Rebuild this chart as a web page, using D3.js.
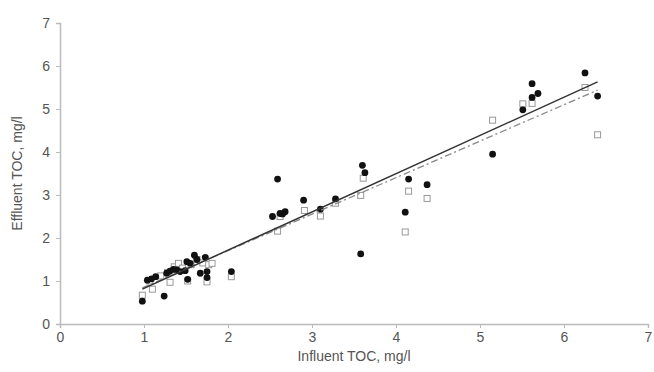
<!DOCTYPE html>
<html>
<head>
<meta charset="utf-8">
<script src="https://cdn.jsdelivr.net/npm/d3@7"></script>
<style>
  body { margin: 0; background: #fff; }
  svg text { font-family: "Liberation Sans", Arial, sans-serif; fill: #555; }
</style>
</head>
<body>
<div id="chart"></div>
<script>
// filled circles (influent, effluent)
const circlePoints = [
  [0.98,0.53],[1.04,1.02],[1.09,1.05],[1.14,1.10],[1.24,0.65],[1.27,1.18],[1.31,1.23],
  [1.35,1.27],[1.39,1.26],[1.43,1.22],[1.49,1.24],[1.51,1.45],[1.52,1.04],[1.55,1.41],
  [1.60,1.60],[1.63,1.50],[1.67,1.18],[1.73,1.55],[1.75,1.22],[1.75,1.08],[2.04,1.22],
  [2.53,2.50],[2.59,3.37],[2.62,2.57],[2.65,2.56],[2.68,2.61],[2.90,2.88],[3.10,2.67],
  [3.28,2.91],[3.58,1.63],[3.60,3.69],[3.63,3.52],[4.11,2.60],[4.15,3.37],[4.37,3.24],
  [5.15,3.95],[5.51,4.98],[5.62,5.27],[5.62,5.59],[5.69,5.36],[6.25,5.84],[6.40,5.30]
];
// open squares
const squarePoints = [
  [0.98,0.67],[1.07,1.00],[1.10,0.81],[1.20,1.12],[1.28,1.20],[1.31,0.97],[1.36,1.33],
  [1.41,1.41],[1.46,1.30],[1.52,1.00],[1.56,1.38],[1.63,1.50],[1.70,1.42],[1.75,0.98],
  [1.77,1.38],[1.81,1.41],[2.04,1.10],[2.59,2.16],[2.62,2.50],[2.91,2.64],[3.10,2.51],
  [3.28,2.81],[3.58,2.99],[3.61,3.39],[4.11,2.14],[4.15,3.09],[4.37,2.92],[5.15,4.74],
  [5.51,5.12],[5.62,5.13],[6.25,5.50],[6.40,4.40]
];
// trend lines (end points)
const solidTrend = [[0.98,0.81],[6.40,5.63]];
const dashTrend = [[0.98,0.84],[6.40,5.44]];
const xTicks = [0,1,2,3,4,5,6,7];
const yTicks = [0,1,2,3,4,5,6,7];

const width = 654, height = 372;
const margin = { top: 23, right: 6, bottom: 48, left: 60 };

const svg = d3.select('#chart').append('svg')
  .attr('width', width)
  .attr('height', height);

const x = d3.scaleLinear().domain([0, 7]).range([margin.left, width - margin.right]);
const y = d3.scaleLinear().domain([0, 7]).range([height - margin.bottom, margin.top]);

// axes
const xAxis = svg.append('g')
  .attr('transform', `translate(0,${y(0)})`)
  .call(d3.axisBottom(x).tickValues(xTicks).tickSize(4).tickPadding(4).tickFormat(d3.format('d')));
const yAxis = svg.append('g')
  .attr('transform', `translate(${x(0)},0)`)
  .call(d3.axisLeft(y).tickValues(yTicks).tickSize(4).tickPadding(6).tickFormat(d3.format('d')));

[xAxis, yAxis].forEach(a => {
  a.select('.domain').attr('stroke', '#bbb').attr('stroke-width', 1.5);
  a.selectAll('.tick line').attr('stroke', '#bbb');
  a.selectAll('.tick text').style('font-size', '14px').style('fill', '#555');
});

// squares
const s = 6;
svg.append('g').selectAll('rect')
  .data(squarePoints)
  .enter().append('rect')
  .attr('x', d => x(d[0]) - s / 2)
  .attr('y', d => y(d[1]) - s / 2)
  .attr('width', s)
  .attr('height', s)
  .attr('fill', '#fff')
  .attr('stroke', '#999')
  .attr('stroke-width', 1);

// circles
svg.append('g').selectAll('circle')
  .data(circlePoints)
  .enter().append('circle')
  .attr('cx', d => x(d[0]))
  .attr('cy', d => y(d[1]))
  .attr('r', 3.4)
  .attr('fill', '#111');

const line = d3.line().x(d => x(d[0])).y(d => y(d[1]));

svg.append('path')
  .datum(dashTrend)
  .attr('fill', 'none')
  .attr('stroke', '#888')
  .attr('stroke-width', 1.3)
  .attr('stroke-dasharray', '7,3,2,3')
  .attr('d', line);

svg.append('path')
  .datum(solidTrend)
  .attr('fill', 'none')
  .attr('stroke', '#333')
  .attr('stroke-width', 1.5)
  .attr('d', line);

// axis titles
svg.append('text')
  .attr('x', (x(0) + x(7)) / 2)
  .attr('y', 361)
  .attr('text-anchor', 'middle')
  .style('font-size', '14px')
  .text('Influent TOC, mg/l');

svg.append('text')
  .attr('transform', `translate(22,${(y(0) + y(7)) / 2}) rotate(-90)`)
  .attr('text-anchor', 'middle')
  .style('font-size', '14px')
  .text('Effluent TOC, mg/l');
</script>
</body>
</html>
